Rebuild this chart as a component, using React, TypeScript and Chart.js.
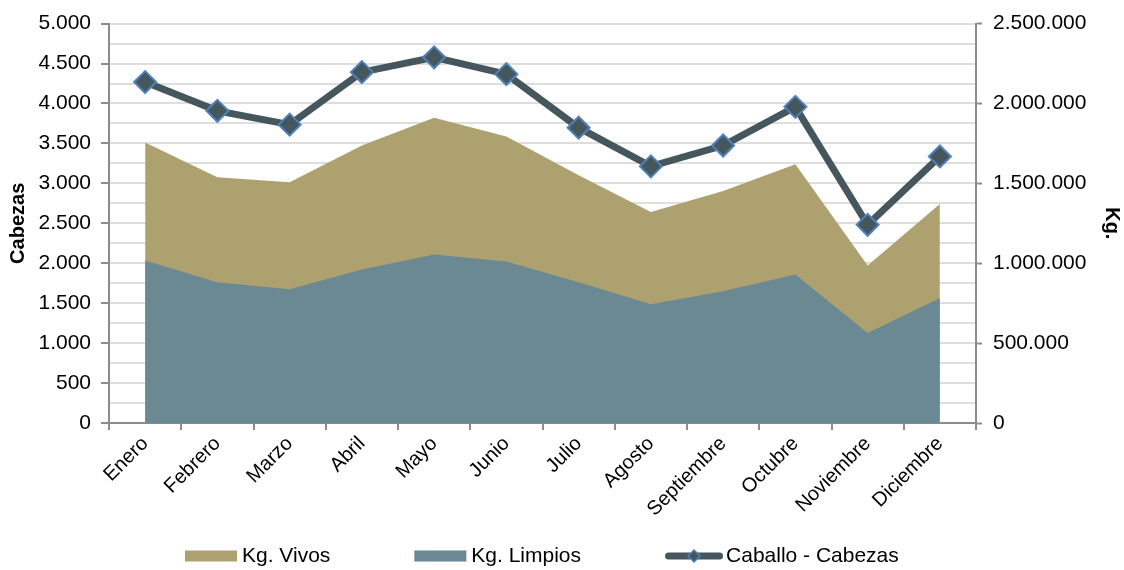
import React, { useEffect, useRef } from 'react';
import { Chart, registerables } from 'chart.js';

Chart.register(...registerables);

const months = ['Enero', 'Febrero', 'Marzo', 'Abril', 'Mayo', 'Junio', 'Julio', 'Agosto', 'Septiembre', 'Octubre', 'Noviembre', 'Diciembre'];
const kgVivos = [1755000, 1538000, 1507000, 1737000, 1911000, 1793000, 1551000, 1321000, 1452000, 1619000, 986000, 1371000];
const kgLimpios = [1017000, 881000, 837000, 961000, 1055000, 1011000, 881000, 744000, 825000, 930000, 564000, 782000];
const caballoCabezas = [4268, 3908, 3735, 4392, 4578, 4367, 3697, 3213, 3474, 3958, 2481, 3337];

const FONT = '"Liberation Sans", Arial, sans-serif';
const VIVOS = '#ADA26F';
const LIMPIOS = '#6A8993';
const LINE = '#45575C';
const MARKER_BORDER = '#4F81BD';
const AXIS = '#8c8c8c';
const GRID = '#dedede';

const fmt = (v: number) => String(Math.round(v)).replace(/\B(?=(\d{3})+(?!\d))/g, '.');

const customLegend = {
  id: 'customLegend',
  afterDraw(chart: any) {
    const ctx = chart.ctx as CanvasRenderingContext2D;
    ctx.save();
    ctx.font = `21px ${FONT}`;
    ctx.textBaseline = 'middle';
    const y = 556;
    let x = 185;
    chart.data.datasets.forEach((ds: any) => {
      let symW = 52;
      let gap = 5;
      if (ds.fill) {
        ctx.fillStyle = ds.backgroundColor;
        ctx.fillRect(x, y - 5.5, symW, 11);
      } else {
        symW = 58;
        gap = 3;
        ctx.strokeStyle = ds.borderColor;
        ctx.lineWidth = 7;
        ctx.lineCap = 'round';
        ctx.beginPath();
        ctx.moveTo(x + 3.5, y);
        ctx.lineTo(x + symW - 3.5, y);
        ctx.stroke();
        const cx = x + symW / 2;
        ctx.beginPath();
        ctx.moveTo(cx, y - 6);
        ctx.lineTo(cx + 6, y);
        ctx.lineTo(cx, y + 6);
        ctx.lineTo(cx - 6, y);
        ctx.closePath();
        ctx.fillStyle = ds.pointBackgroundColor;
        ctx.fill();
        ctx.lineWidth = 1.5;
        ctx.strokeStyle = ds.pointBorderColor;
        ctx.stroke();
      }
      const tx = x + symW + gap;
      ctx.fillStyle = '#000';
      ctx.fillText(ds.label, tx, y);
      x = tx + ctx.measureText(ds.label).width + 84;
    });
    ctx.restore();
  },
};

export default function App() {
  const ref = useRef<HTMLCanvasElement>(null);
  useEffect(() => {
    document.body.style.margin = '0';
    Chart.defaults.font.family = FONT;
    Chart.defaults.color = '#000';
    const chart = new Chart(ref.current!, {
      type: 'line',
      data: {
        labels: months,
        datasets: [
          {
            label: 'Kg. Vivos',
            data: kgVivos,
            yAxisID: 'y1',
            backgroundColor: VIVOS,
            borderColor: VIVOS,
            borderWidth: 0,
            pointRadius: 0,
            fill: 'origin',
            order: 3,
          },
          {
            label: 'Kg. Limpios',
            data: kgLimpios,
            yAxisID: 'y1',
            backgroundColor: LIMPIOS,
            borderColor: LIMPIOS,
            borderWidth: 0,
            pointRadius: 0,
            fill: 'origin',
            order: 2,
          },
          {
            label: 'Caballo - Cabezas',
            data: caballoCabezas,
            yAxisID: 'y',
            borderColor: LINE,
            borderWidth: 7,
            fill: false,
            pointStyle: 'rectRot',
            pointRadius: 11,
            pointBackgroundColor: LINE,
            pointBorderColor: MARKER_BORDER,
            pointBorderWidth: 2,
            order: 1,
          },
        ],
      },
      options: {
        responsive: false,
        devicePixelRatio: 1,
        animation: false,
        events: [],
        layout: { padding: { left: 0, right: 0, top: 20, bottom: 50 } },
        plugins: {
          legend: { display: false },
          tooltip: { enabled: false },
        },
        scales: {
          x: {
            type: 'category',
            offset: true,
            grid: {
              display: true,
              offset: true,
              drawOnChartArea: false,
              drawTicks: true,
              tickLength: 7,
              color: AXIS,
              lineWidth: 2,
            },
            border: { display: true, color: AXIS, width: 2 },
            ticks: {
              minRotation: 45,
              maxRotation: 45,
              autoSkip: false,
              padding: 2,
              font: { size: 20, family: FONT },
              color: '#000',
            },
            afterFit: (s: any) => {
              s.height = 97;
            },
          },
          y: {
            position: 'left',
            min: 0,
            max: 5000,
            grid: {
              color: GRID,
              lineWidth: 2,
              tickLength: 8,
              tickColor: (c: any) => (c.tick && c.tick.value % 500 === 0 ? AXIS : 'rgba(0,0,0,0)'),
              tickWidth: 2,
            },
            border: { display: true, color: AXIS, width: 2 },
            ticks: {
              stepSize: 250,
              padding: 10,
              autoSkip: false,
              font: { size: 21, family: FONT },
              color: '#000',
              callback: (v: any) => (Number(v) % 500 === 0 ? fmt(Number(v)) : ''),
            },
            title: {
              display: true,
              text: 'Cabezas',
              font: { size: 20, weight: 'bold', family: FONT },
              color: '#000',
              padding: { top: 6, bottom: 0 },
            },
            afterFit: (s: any) => {
              s.width = 109;
            },
          },
          y1: {
            position: 'right',
            min: 0,
            max: 2500000,
            grid: {
              drawOnChartArea: false,
              color: AXIS,
              tickLength: 6,
              tickColor: (c: any) => (c.tick && c.tick.value % 500000 === 0 ? AXIS : 'rgba(0,0,0,0)'),
              tickWidth: 2,
            },
            border: { display: true, color: AXIS, width: 2 },
            ticks: {
              stepSize: 250000,
              padding: 11,
              autoSkip: false,
              font: { size: 21, family: FONT },
              color: '#000',
              callback: (v: any) => (Number(v) % 500000 === 0 ? fmt(Number(v)) : ''),
            },
            title: {
              display: true,
              text: 'Kg.',
              font: { size: 20, weight: 'bold', family: FONT },
              color: '#000',
              padding: { top: 0, bottom: 7 },
            },
            afterFit: (s: any) => {
              s.width = 148;
            },
          },
        },
      } as any,
      plugins: [customLegend],
    });
    return () => chart.destroy();
  }, []);

  return (
    <div style={{ position: 'fixed', left: 0, top: 0, width: 1124, height: 570 }}>
      <canvas ref={ref} width={1124} height={570} style={{ display: 'block' }} />
    </div>
  );
}
